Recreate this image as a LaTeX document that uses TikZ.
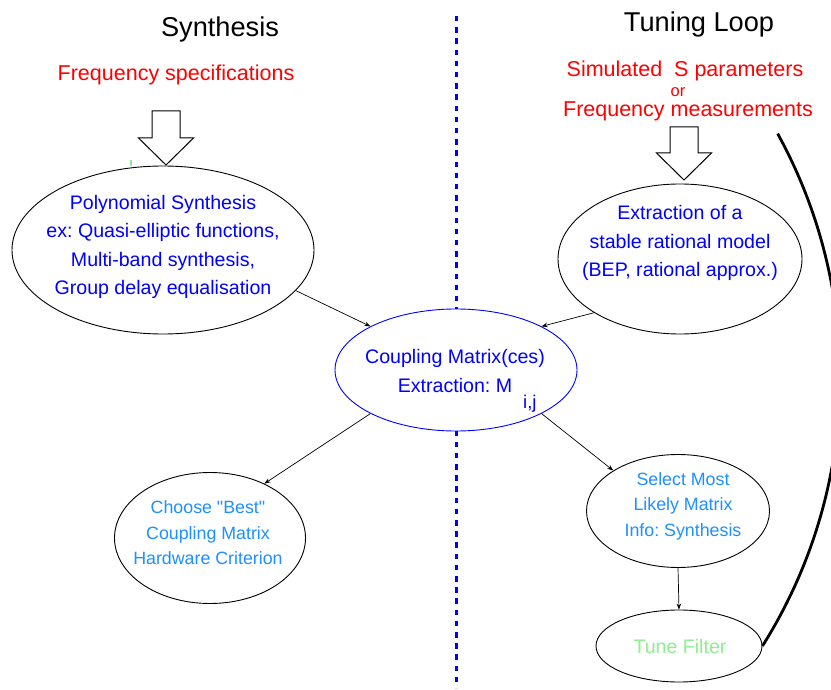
\documentclass[tikz,border=0pt]{standalone}
\usepackage{fontspec}
\setmainfont{Liberation Sans}
\usetikzlibrary{shapes.geometric,arrows.meta}
\frenchspacing
\definecolor{textblue}{RGB}{0,0,255}
\definecolor{lightblue}{RGB}{30,144,255}
\definecolor{lightgreen}{RGB}{144,238,144}
\newcommand{\figurescale}{1pt}
\newcommand{\hollowarrow}[3]{
	\draw[line width=1pt, fill=white] (#1-14,#2) -- (#1+14,#2) -- (#1+14,#3-27) -- (#1+27.5,#3-27)
		-- (#1,#3) -- (#1-27.5,#3-27) -- (#1-14,#3-27) -- cycle;
}

\begin{document}
\begin{tikzpicture}[x=\figurescale,y=-\figurescale,
	bubble/.style={ellipse, draw, line width=0.9pt, fill=white, inner sep=0pt},
	bubbletext/.style={align=center, text=textblue, inner sep=0pt, font=\fontsize{19.6}{28.5}\selectfont},
	smalltext/.style={align=center, text=lightblue, inner sep=0pt, font=\fontsize{17.8}{25.5}\selectfont},
	titletext/.style={inner sep=0pt, font=\fontsize{27.2}{32}\selectfont},
	spectext/.style={inner sep=0pt, text=red, font=\fontsize{21.5}{26}\selectfont},
	link/.style={-{Stealth[length=6pt,width=4.5pt]}, line width=0.7pt},
	loopline/.style={line width=2.8pt}]
	\useasboundingbox (0,0) rectangle (831,690);

	\coordinate (divtop) at (456,16);
	\coordinate (divbot) at (456,688);
	\draw[textblue, line width=3pt, dash pattern=on 5.5pt off 5.7pt] (divtop) -- (divbot);

	\node[titletext, anchor=base] (synthtitle) at (220,37) {Synthesis};
	\node[titletext, anchor=base] (tunetitle) at (699,32) {Tuning Loop};
	\node[spectext, anchor=base] (freqspec) at (176,81) {Frequency specifications};
	\node[spectext, anchor=base] (simul) at (685,77) {Simulated\ \ S parameters};
	\node[spectext, anchor=base, font=\fontsize{16.5}{20}\selectfont] (ortext) at (678,97) {or};
	\node[spectext, anchor=base] (freqmeas) at (688,117) {Frequency measurements};

	\hollowarrow{166}{111}{165}
	\hollowarrow{684}{127}{180}
	\draw[lightgreen, line width=1.5pt] (131,160) -- (131,166);

	\node[bubble, minimum width=302pt, minimum height=168pt] (poly) at (163,250) {};
	\node[bubble, minimum width=244pt, minimum height=150pt] (extr) at (680,259) {};
	\node[bubble, draw=textblue, minimum width=242pt, minimum height=122pt] (coupling) at (456,370) {};
	\node[bubble, minimum width=191pt, minimum height=131pt] (choose) at (210,538) {};
	\node[bubble, minimum width=183pt, minimum height=113pt] (select) at (678,511) {};
	\node[bubble, minimum width=166pt, minimum height=72pt] (tune) at (679,646) {};

	\node[bubbletext] (polytext) at (163,247) {Polynomial Synthesis\\ex: Quasi-elliptic functions,\\Multi-band synthesis,\\Group delay equalisation};
	\node[bubbletext] (extrtext) at (680,243) {Extraction of a\\stable rational model\\(BEP, rational approx.)};
	\node[bubbletext] (couplingtext) at (455,371) {Coupling Matrix(ces)\\Extraction: M\rlap{\hspace{11pt}\raisebox{-16pt}[0pt][0pt]{\fontsize{18.5}{20}\selectfont i,j}}};
	\node[smalltext] (choosetext) at (208,533) {Choose \textquotedbl Best\textquotedbl\\Coupling Matrix\\Hardware Criterion};
	\node[smalltext] (selecttext) at (683,506) {Select Most\\Likely Matrix\\Info: Synthesis};
	\node[bubbletext, text=lightgreen] (tunetext) at (680,646) {Tune Filter};

	\draw[link] (poly.-17) -- (coupling.153);
	\draw[link] (extr.212) -- (coupling.27);
	\draw[link] (coupling.207) -- (choose.45);
	\draw[link] (coupling.-27) -- (select.148);
	\draw[link] (select.south) -- (tune.north);
	\draw[loopline] (tune.east) arc[start angle=-32.2, end angle=28.8, radius=505pt];

\end{tikzpicture}
\end{document}
